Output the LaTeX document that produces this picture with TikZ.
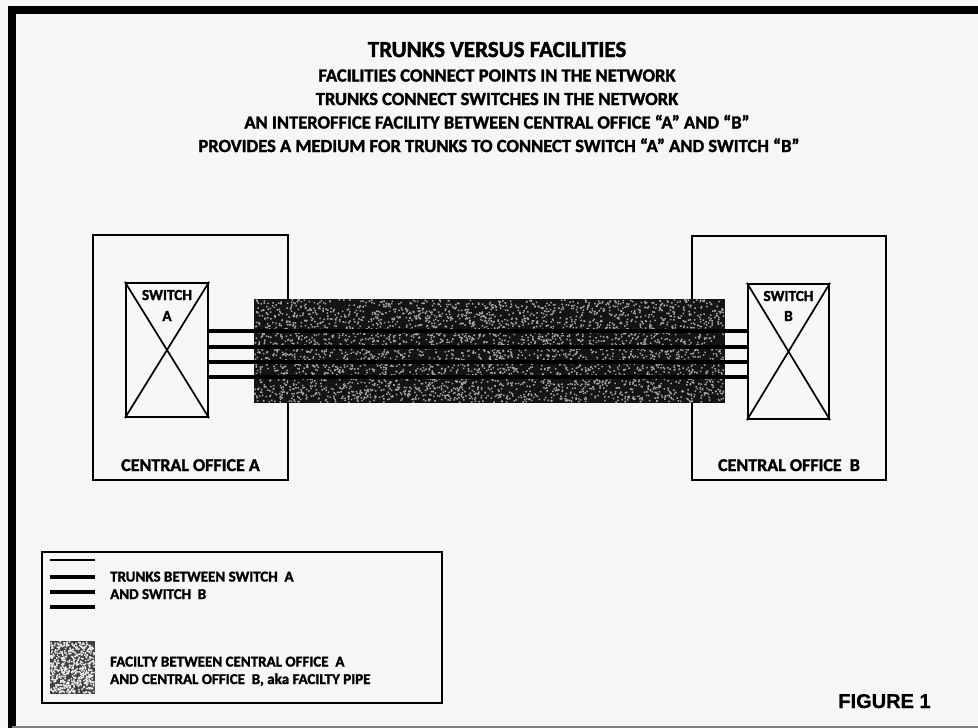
\documentclass[tikz,border=0pt]{standalone}
\usepackage{fontspec}
\setmainfont{Carlito}[BoldFeatures={FakeBold=1.6}]
\newfontfamily\arialfont{Liberation Sans}[BoldFeatures={FakeBold=0.8}]
\definecolor{paper}{HTML}{F6F6F6}
\definecolor{speck}{HTML}{A8A8A8}
\tikzset{
  box/.style={draw=black, line width=2.6pt, fill=none, inner sep=0pt},
  swbox/.style={draw=black, line width=2.2pt, fill=white!97!black, inner sep=0pt},
  cross/.style={line width=1.7pt},
  trunk/.style={line width=3.8pt},
  titletext/.style={font=\bfseries\fontsize{23}{26}\selectfont, anchor=base, inner sep=0pt},
  subtext/.style={font=\bfseries\fontsize{18.5}{21}\selectfont, anchor=base, inner sep=0pt},
  colabel/.style={font=\bfseries\fontsize{18}{20}\selectfont, anchor=base, inner sep=0pt},
  swlabel/.style={font=\bfseries\fontsize{15.3}{17}\selectfont, anchor=base, inner sep=0pt},
  legtext/.style={font=\bfseries\fontsize{15}{17}\selectfont, anchor=base west, inner sep=0pt},
}
\begin{document}
\begin{tikzpicture}[x=1pt,y=-1pt]
\useasboundingbox (0,0) rectangle (978,728);
\fill[paper] (0,0) rectangle (978,728);
% outer frame
\coordinate (ftl) at (12,10);
\coordinate (ftr) at (978,10);
\coordinate (fbl) at (12,728);
\coordinate (fbr) at (978,727);
\draw[line width=8pt] (ftr) -- (ftl) -- (fbl);
\draw[line width=1.5pt, gray] (12,727) -- (fbr);

% title
\node[titletext] (t0) at (497,57) {TRUNKS VERSUS FACILITIES};
\node[subtext] (t1) at (497,81.5) {FACILITIES CONNECT POINTS IN THE NETWORK};
\node[subtext] (t2) at (497,105) {TRUNKS CONNECT SWITCHES IN THE NETWORK};
\node[subtext] (t3) at (497,128.5) {AN INTEROFFICE FACILITY BETWEEN CENTRAL OFFICE “A” AND “B”};
\node[subtext] (t4) at (499,152) {PROVIDES A MEDIUM FOR TRUNKS TO CONNECT SWITCH “A” AND SWITCH “B”};

% central offices
\node[box, minimum width=195pt, minimum height=245pt] (coA) at (190.5,357.5) {};
\node[box, minimum width=194pt, minimum height=244pt] (coB) at (789,358) {};
\node[colabel] (coAl) at (190.5,471) {CENTRAL OFFICE A};
\node[colabel] (coBl) at (789,471) {CENTRAL OFFICE\ \ B};

% facility pipe
\fill[black!92] (254,299) rectangle (725,403);
\pgfmathsetseed{1234}
\foreach \i in {1,...,2000}{
  \pgfmathsetmacro\ax{254+469*rnd}
  \pgfmathsetmacro\ay{299+102.5*rnd}
  \pgfmathsetmacro\bx{254+469*rnd}
  \pgfmathsetmacro\by{299+102.5*rnd}
  \fill[speck] (\ax,\ay) rectangle ++(1.5,1.5) (\bx,\by) rectangle ++(1.5,1.5);
}
\node[inner sep=0pt, minimum width=471pt, minimum height=104pt] (pipe) at (489.5,351) {};

% switches
\node[swbox, minimum width=82pt, minimum height=134pt] (swA) at (167,350) {};
\node[swbox, minimum width=81pt, minimum height=135pt] (swB) at (788.5,351.5) {};
\draw[cross] (swA.north west) -- (swA.south east);
\draw[cross] (swA.north east) -- (swA.south west);
\draw[cross] (swB.north west) -- (swB.south east);
\draw[cross] (swB.north east) -- (swB.south west);
\fill[white!97!black] (142,286) rectangle (192,302);
\fill[white!97!black] (160,307) rectangle (174,322);
\fill[white!97!black] (763,287) rectangle (814,303);
\fill[white!97!black] (781,307) rectangle (796,322);
\node[swlabel] (swAl1) at (167,300) {SWITCH};
\node[swlabel] (swAl2) at (167,321) {A};
\node[swlabel] (swBl1) at (788.5,301) {SWITCH};
\node[swlabel] (swBl2) at (788.5,321) {B};

% trunks
\foreach \y in {331,347,362,377}{
  \draw[trunk] (swA.east |- 0,\y) -- (swB.west |- 0,\y);
}

% legend
\node[box, minimum width=400pt, minimum height=151pt] (leg) at (242,627.5) {};
\coordinate (l0a) at (50,560); \coordinate (l0b) at (95,560);
\coordinate (l1a) at (50,577); \coordinate (l1b) at (95,577);
\coordinate (l2a) at (50,592); \coordinate (l2b) at (95,592);
\coordinate (l3a) at (50,607); \coordinate (l3b) at (95,607);
\draw[line width=2.4pt] (l0a) -- (l0b);
\draw[trunk] (l1a) -- (l1b);
\draw[trunk] (l2a) -- (l2b);
\draw[trunk] (l3a) -- (l3b);
\node[legtext] (lt1) at (110,581.5) {TRUNKS BETWEEN SWITCH\ \ A};
\node[legtext] (lt2) at (110,599) {AND SWITCH\ \ B};
\fill[black!75] (50,641) rectangle (95,694);
\foreach \i in {1,...,300}{
  \pgfmathsetmacro\ax{50+43.5*rnd}
  \pgfmathsetmacro\ay{641+51.5*rnd}
  \pgfmathsetmacro\bx{50+43.5*rnd}
  \pgfmathsetmacro\by{641+51.5*rnd}
  \fill[white!85!gray] (\ax,\ay) rectangle ++(1.5,1.5) (\bx,\by) rectangle ++(1.5,1.5);
}
\node[inner sep=0pt, minimum width=45pt, minimum height=53pt] (legpipe) at (72.5,667.5) {};
\node[legtext] (lt3) at (110,666.5) {FACILTY BETWEEN CENTRAL OFFICE\ \ A};
\node[legtext] (lt4) at (110,684) {AND CENTRAL OFFICE\ \ B, aka FACILTY PIPE};

% figure label
\node[font=\arialfont\bfseries\fontsize{20}{22}\selectfont, anchor=base, inner sep=0pt] (fig) at (884.5,708) {FIGURE 1};
\end{tikzpicture}
\end{document}
